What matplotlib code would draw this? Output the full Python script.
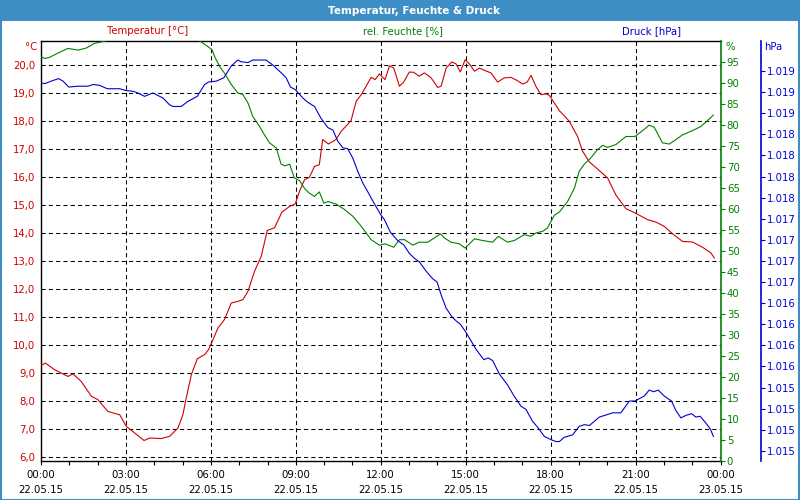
import matplotlib
matplotlib.use("Agg")
import matplotlib.pyplot as plt
from matplotlib.patches import Rectangle

plt.rcParams['font.family'] = ['DejaVu Sans']

# ---------------- data ----------------
hours_t = [0.00, 0.15, 0.48, 0.95, 1.13, 1.42, 1.78, 2.01, 2.36, 2.78, 3.01, 3.31, 3.64, 3.84, 4.25,
           4.54, 4.84, 5.01, 5.13, 5.31, 5.52, 5.78, 5.92, 6.04, 6.25, 6.48, 6.72, 6.95, 7.13, 7.31,
           7.54, 7.78, 7.99, 8.25, 8.51, 8.78, 8.98, 9.13, 9.31, 9.48, 9.66, 9.83, 9.95, 10.15, 10.42,
           10.60, 10.95, 11.13, 11.33, 11.66, 11.80, 11.95, 12.15, 12.31, 12.46, 12.66, 12.81, 13.01,
           13.16, 13.36, 13.54, 13.78, 14.01, 14.13, 14.31, 14.51, 14.66, 14.81, 14.98, 15.13, 15.31,
           15.48, 15.66, 15.89, 16.13, 16.36, 16.60, 16.83, 17.01, 17.17, 17.31, 17.48, 17.66, 17.84,
           17.95, 18.31, 18.66, 18.95, 19.13, 19.37, 19.72, 20.01, 20.31, 20.66, 20.98, 21.42, 21.72,
           22.01, 22.31, 22.66, 23.01, 23.37, 23.66, 23.78]
temperature = [9.27, 9.37, 9.13, 8.89, 8.98, 8.71, 8.18, 8.06, 7.64, 7.52, 7.11, 6.87, 6.60, 6.69, 6.67,
               6.75, 7.05, 7.52, 8.12, 8.95, 9.52, 9.67, 9.85, 10.12, 10.62, 10.92, 11.51, 11.57, 11.63,
               11.93, 12.64, 13.18, 14.10, 14.20, 14.76, 14.96, 15.05, 15.50, 15.92, 16.00, 16.39, 16.45,
               17.35, 17.19, 17.35, 17.64, 18.02, 18.71, 18.98, 19.57, 19.49, 19.69, 19.49, 19.98, 19.90,
               19.25, 19.40, 19.76, 19.75, 19.61, 19.73, 19.55, 19.21, 19.25, 19.90, 20.12, 20.05, 19.76,
               20.20, 20.05, 19.79, 19.90, 19.82, 19.73, 19.40, 19.55, 19.57, 19.45, 19.33, 19.40, 19.64,
               19.25, 18.95, 18.98, 18.93, 18.38, 18.00, 17.46, 16.93, 16.55, 16.24, 15.98, 15.36, 14.88,
               14.73, 14.49, 14.40, 14.25, 13.98, 13.71, 13.69, 13.50, 13.30, 13.12]

hours_h = [0.00, 0.15, 0.31, 0.60, 0.95, 1.31, 1.60, 1.89, 2.36, 2.80, 4.00, 5.00, 5.58, 5.84, 6.04,
           6.13, 6.31, 6.48, 6.72, 6.95, 7.13, 7.31, 7.48, 7.72, 7.89, 8.07, 8.31, 8.48, 8.62, 8.78,
           8.95, 9.13, 9.31, 9.48, 9.66, 9.83, 9.99, 10.13, 10.42, 10.72, 11.01, 11.31, 11.66, 11.95,
           12.15, 12.46, 12.66, 12.84, 13.13, 13.36, 13.66, 13.89, 14.11, 14.25, 14.48, 14.78, 14.98,
           15.31, 15.60, 15.95, 16.15, 16.48, 16.72, 17.07, 17.31, 17.48, 17.72, 17.89, 18.13, 18.31,
           18.60, 18.84, 19.01, 19.19, 19.42, 19.66, 19.84, 20.01, 20.31, 20.66, 20.98, 21.25, 21.48,
           21.66, 21.95, 22.19, 22.37, 22.66, 23.01, 23.31, 23.54, 23.75]
humidity = [96.3, 95.9, 96.2, 97.2, 98.3, 97.9, 98.4, 99.5, 100.2, 101.0, 102.0, 101.5, 100.2, 99.0, 98.0,
            96.4, 94.0, 92.4, 89.7, 87.7, 87.3, 85.3, 82.1, 79.7, 77.7, 75.8, 74.6, 70.7, 70.3, 70.7,
            67.4, 66.8, 64.9, 63.8, 63.0, 64.1, 61.4, 61.8, 61.2, 59.9, 58.3, 55.9, 52.7, 51.4,
            51.7, 50.9, 52.7, 52.7, 51.4, 52.1, 52.1, 53.1, 54.1, 53.1, 52.1, 51.7, 50.7,
            52.9, 52.5, 52.1, 53.5, 52.1, 52.5, 53.9, 53.5, 54.3, 54.7, 55.5, 58.5, 59.3,
            61.8, 65.0, 69.0, 70.7, 72.2, 74.2, 75.2, 74.7, 75.4, 77.3, 77.3, 78.7, 80.0,
            79.5, 75.8, 75.5, 76.3, 77.7, 78.7, 79.7, 81.1, 82.4]

hours_p = [0.00, 0.13, 0.36, 0.62, 0.78, 0.98, 1.31, 1.66, 1.84, 2.07, 2.34, 2.78, 2.98, 3.25, 3.42,
           3.66, 3.95, 4.31, 4.54, 4.66, 4.95, 5.19, 5.52, 5.78, 5.92, 6.19, 6.46, 6.72, 6.95, 7.07,
           7.31, 7.48, 7.95, 8.19, 8.48, 8.66, 8.81, 8.98, 9.25, 9.42, 9.66, 9.89, 10.13, 10.31, 10.48,
           10.66, 10.83, 11.01, 11.19, 11.37, 11.54, 11.72, 11.89, 12.03, 12.13, 12.34, 12.60, 12.81,
           13.01, 13.19, 13.36, 13.60, 13.83, 13.99, 14.13, 14.31, 14.51, 14.66, 14.81, 14.98, 15.16,
           15.37, 15.64, 15.80, 15.95, 16.19, 16.48, 16.69, 16.95, 17.13, 17.36, 17.54, 17.78, 18.03,
           18.19, 18.31, 18.48, 18.78, 19.01, 19.19, 19.37, 19.72, 20.01, 20.19, 20.48, 20.78, 20.98,
           21.31, 21.48, 21.64, 21.80, 22.01, 22.27, 22.42, 22.60, 22.78, 22.98, 23.13, 23.28, 23.48,
           23.64, 23.75]
pressure = [1018.96, 1018.95, 1018.98, 1019.01, 1018.98, 1018.91, 1018.92, 1018.92, 1018.94, 1018.93,
            1018.89, 1018.89, 1018.87, 1018.86, 1018.84, 1018.80, 1018.84, 1018.78, 1018.70, 1018.68,
            1018.68, 1018.74, 1018.80, 1018.94, 1018.97, 1018.98, 1019.02, 1019.16, 1019.23, 1019.21,
            1019.20, 1019.23, 1019.23, 1019.17, 1019.08, 1019.02, 1018.91, 1018.88, 1018.78, 1018.73,
            1018.68, 1018.54, 1018.43, 1018.40, 1018.27, 1018.19, 1018.18, 1018.07, 1017.91, 1017.77,
            1017.67, 1017.56, 1017.46, 1017.38, 1017.34, 1017.19, 1017.09, 1017.04, 1016.94, 1016.88,
            1016.84, 1016.73, 1016.64, 1016.60, 1016.45, 1016.29, 1016.19, 1016.14, 1016.10, 1016.02,
            1015.92, 1015.80, 1015.68, 1015.70, 1015.67, 1015.51, 1015.38, 1015.26, 1015.13, 1015.09,
            1014.95, 1014.88, 1014.77, 1014.73, 1014.71, 1014.71, 1014.76, 1014.79, 1014.89, 1014.91,
            1014.90, 1015.00, 1015.03, 1015.05, 1015.05, 1015.19, 1015.19, 1015.25, 1015.32, 1015.30,
            1015.32, 1015.25, 1015.19, 1015.08, 1014.99, 1015.02, 1015.04, 1015.00, 1015.01, 1014.93,
            1014.86, 1014.77]

x_major = [0, 3, 6, 9, 12, 15, 18, 21, 24]
x_labels = ["00:00\n22.05.15", "03:00\n22.05.15", "06:00\n22.05.15", "09:00\n22.05.15",
            "12:00\n22.05.15", "15:00\n22.05.15", "18:00\n22.05.15", "21:00\n22.05.15",
            "00:00\n23.05.15"]
t_ticks = [6, 7, 8, 9, 10, 11, 12, 13, 14, 15, 16, 17, 18, 19, 20]
t_labels = ["6,0", "7,0", "8,0", "9,0", "10,0", "11,0", "12,0", "13,0", "14,0", "15,0",
            "16,0", "17,0", "18,0", "19,0", "20,0"]
h_ticks = [0, 5, 10, 15, 20, 25, 30, 35, 40, 45, 50, 55, 60, 65, 70, 75, 80, 85, 90, 95]
p_ticks = [1014.6, 1014.85, 1015.1, 1015.35, 1015.6, 1015.85, 1016.1, 1016.35, 1016.6, 1016.85,
           1017.1, 1017.35, 1017.6, 1017.85, 1018.1, 1018.35, 1018.6, 1018.85, 1019.1]
p_labels = ["1.015", "1.015", "1.015", "1.015", "1.016", "1.016", "1.016", "1.016", "1.017", "1.017",
            "1.017", "1.017", "1.018", "1.018", "1.018", "1.018", "1.019", "1.019", "1.019"]

# ---------------- style ----------------
RED = '#d00000'
GREEN = '#008000'
BLUE = '#0000d0'
BAR = '#3e8ec6'
FS = 7.3

W, H = 800, 500
fig = plt.figure(figsize=(8, 5), dpi=100)
fig.patch.set_facecolor('white')

# title bar and frame
fig.patches.append(Rectangle((0, 1 - 21 / H), 1, 21 / H, transform=fig.transFigure,
                             facecolor=BAR, edgecolor='none', zorder=0))
fig.patches.append(Rectangle((0.5 / W, 0.5 / H), 1 - 1.5 / W, 1 - 1.5 / H, transform=fig.transFigure,
                             facecolor='none', edgecolor=BAR, linewidth=1.5, zorder=5))
fig.text(414 / W, 1 - 10.5 / H, "Temperatur, Feuchte & Druck", color='white', fontsize=7.5,
         fontweight='bold', ha='center', va='center')

L, R, T, B = 41, 720.5, 41.3, 460.7
ax = fig.add_axes([L / W, 1 - B / H, (R - L) / W, (B - T) / H])
ax.set_facecolor('white')

dash = (0, (4, 3))
ax.plot(hours_t, temperature, color=RED, lw=0.8, zorder=3)
ax.set_xlim(0, 24)
ax.set_ylim(5.88, 20.857)
ax.set_yticks(t_ticks)
ax.set_yticklabels(t_labels)
ax.set_xticks(x_major)
ax.set_xticklabels(x_labels, linespacing=1.6)
ax.set_xticks(list(range(25)), minor=True)
ax.grid(True, which='major', color='black', linestyle=dash, linewidth=0.75)
ax.tick_params(axis='y', length=0, pad=4, labelcolor=RED, labelsize=FS)
ax.tick_params(axis='x', which='both', direction='out', length=3, width=0.8,
               pad=4, labelsize=FS, colors='black')
for s in ['left', 'top', 'bottom']:
    ax.spines[s].set_color('black')
    ax.spines[s].set_linewidth(1.0)
ax.spines['right'].set_visible(False)

ax2 = ax.twinx()
ax2.plot(hours_h, humidity, color=GREEN, lw=0.8, zorder=3)
ax2.set_ylim(0, 100)
ax2.set_yticks(h_ticks)
ax2.tick_params(axis='y', direction='out', length=3, width=0.8, color=GREEN,
                labelcolor=GREEN, labelsize=FS, pad=1.5)
ax2.spines['right'].set_color(GREEN)
ax2.spines['right'].set_linewidth(1.2)
for s in ['left', 'top', 'bottom']:
    ax2.spines[s].set_visible(False)

ax3 = ax.twinx()
ax3.plot(hours_p, pressure, color=BLUE, lw=0.8, zorder=3)
ax3.set_ylim(1014.483, 1019.452)
ax3.set_yticks(p_ticks)
ax3.set_yticklabels(p_labels)
ax3.spines['right'].set_position(('axes', (760.5 - L) / (R - L)))
ax3.spines['right'].set_color(BLUE)
ax3.spines['right'].set_linewidth(1.2)
for s in ['left', 'top', 'bottom']:
    ax3.spines[s].set_visible(False)
ax3.tick_params(axis='y', direction='out', length=3, width=0.8, color=BLUE,
                labelcolor=BLUE, labelsize=FS, pad=1.5)

# series / unit labels
fig.text(148 / W, 1 - 31.5 / H, "Temperatur [°C]", color=RED, fontsize=FS, ha='center', va='center')
fig.text(403 / W, 1 - 31.5 / H, "rel. Feuchte [%]", color=GREEN, fontsize=FS, ha='center', va='center')
fig.text(652 / W, 1 - 31.5 / H, "Druck [hPa]", color=BLUE, fontsize=FS, ha='center', va='center')
fig.text(37 / W, 1 - 46.5 / H, "°C", color=RED, fontsize=FS, ha='right', va='center')
fig.text(725 / W, 1 - 46.5 / H, "%", color=GREEN, fontsize=FS, ha='left', va='center')
fig.text(764 / W, 1 - 46.5 / H, "hPa", color=BLUE, fontsize=FS, ha='left', va='center')

fig.savefig("out.png", dpi=100)
